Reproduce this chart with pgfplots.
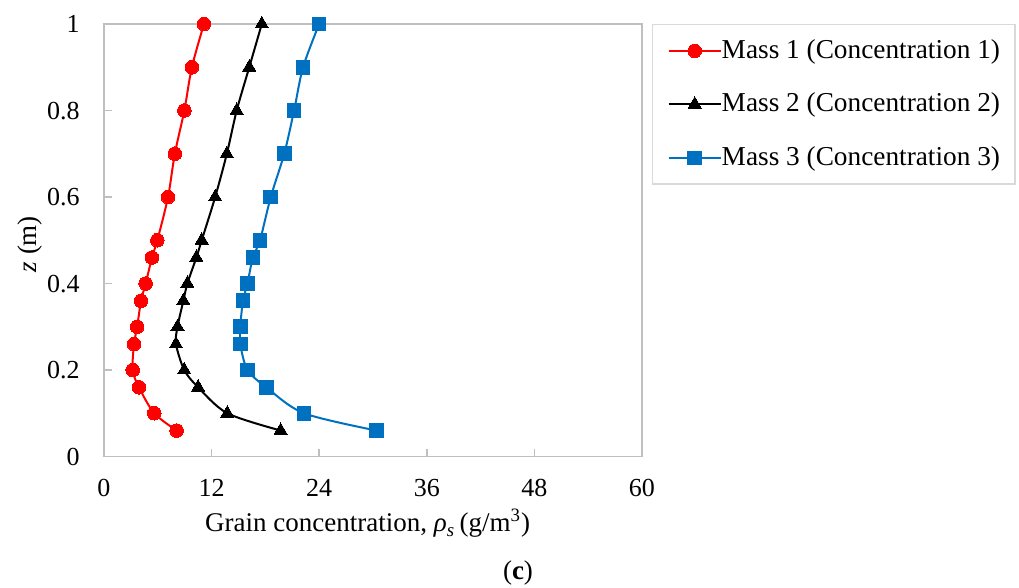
\documentclass[border=0pt]{standalone}
\usepackage{fontspec}
\setmainfont{Liberation Serif}
\usepackage{pgfplots}
\pgfplotsset{compat=1.18}
\definecolor{axisgray}{RGB}{191,191,191}
\definecolor{legendgray}{RGB}{217,217,217}
\definecolor{mred}{RGB}{255,0,0}
\definecolor{mblue}{RGB}{0,112,192}
\begin{document}
\begin{tikzpicture}[x=1pt,y=1pt]
\useasboundingbox (0,0) rectangle (509.5,294);
\begin{axis}[
  at={(52pt,65.75pt)}, anchor=south west,
  scale only axis, width=269pt, height=216.25pt,
  xmin=0, xmax=60, ymin=0, ymax=1,
  xtick={0,12,24,36,48,60},
  xticklabels={0,12,24,36,48,60},
  ytick={0,0.2,0.4,0.6,0.8,1},
  yticklabels={0,0.2,0.4,0.6,0.8,1},
  tick pos=left, tick align=inside, major tick length=3.85pt,
  axis line style={draw=axisgray, line width=0.75pt},
  tick style={draw=axisgray, line width=0.75pt},
  /pgf/number format/assume math mode=true,
  ticklabel style={font=\fontsize{13}{15}\selectfont, inner sep=0pt, text depth=0pt},
  xticklabel style={anchor=center, yshift=-15.75pt},
  yticklabel style={anchor=east, xshift=-12pt},
  xlabel={Grain concentration, \textit{ρ}\textsubscript{\textit{s}}\,(g/m\textsuperscript{3})},
  ylabel={\textit{z} (m)},
  label style={font=\fontsize{13.5}{15}\selectfont},
  xlabel style={at={(axis description cs:0.49,0)}, anchor=base, yshift=-37.6pt},
  ylabel style={at={(axis description cs:0,0.491)}, anchor=center, yshift=37pt},
  clip=false,
  legend style={at={(1.0186,1)}, anchor=north west, draw=legendgray, line width=0.75pt,
    fill=white, inner xsep=7.5pt, inner ysep=6.3pt, row sep=13.25pt,
    font=\fontsize{13.65}{15}\selectfont,
    nodes={inner sep=0pt, text height=10.5pt, text depth=3pt},
    /tikz/every even column/.append style={column sep=4.5pt}},
  legend cell align=left,
  legend image code/.code={\draw[mark repeat=2,mark phase=2,sharp plot] plot coordinates {(0pt,0pt) (13pt,0pt) (26pt,0pt)};},
]
\addplot[mred, line width=1pt, smooth, tension=0.5, mark=*, mark size=3.4pt, mark options={fill=mred, draw=mred, line width=0pt}]
coordinates {(8.1,0.06) (5.6,0.1) (3.9,0.16) (3.2,0.2) (3.35,0.26) (3.7,0.3) (4.13,0.36) (4.65,0.4) (5.35,0.46) (5.95,0.5) (7.14,0.6) (7.9,0.7) (8.96,0.8) (9.8,0.9) (11.15,1.0)};
\addlegendentry{Mass 1 (Concentration 1)}
\addplot[black, line width=1pt, smooth, tension=0.5, mark=triangle*, mark size=3.8pt, mark options={fill=black, draw=black, line width=0pt}]
coordinates {(19.7,0.06) (13.75,0.1) (10.5,0.16) (8.95,0.2) (8.03,0.26) (8.2,0.3) (8.85,0.36) (9.3,0.4) (10.3,0.46) (10.9,0.5) (12.4,0.6) (13.7,0.7) (14.8,0.8) (16.2,0.9) (17.6,1.0)};
\addlegendentry{Mass 2 (Concentration 2)}
\addplot[mblue, line width=1pt, smooth, tension=0.5, mark=square*, mark size=3.4pt, mark options={fill=mblue, draw=mblue, line width=0pt}]
coordinates {(30.4,0.06) (22.3,0.1) (18.1,0.16) (16.0,0.2) (15.2,0.26) (15.2,0.3) (15.5,0.36) (16.0,0.4) (16.6,0.46) (17.4,0.5) (18.6,0.6) (20.1,0.7) (21.2,0.8) (22.2,0.9) (24.0,1.0)};
\addlegendentry{Mass 3 (Concentration 3)}
\end{axis}
\node[font=\fontsize{13.5}{15}\selectfont, inner sep=0pt] at (259,7.5) {(\textbf{c})};
\end{tikzpicture}
\end{document}
